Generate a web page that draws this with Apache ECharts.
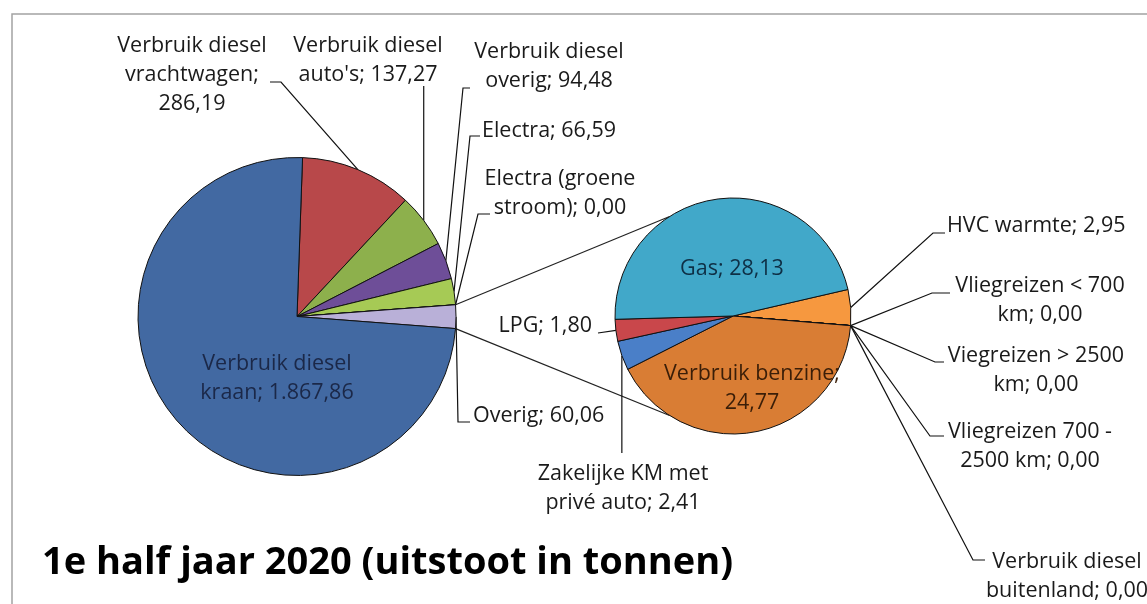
<!DOCTYPE html>
<html><head><meta charset="utf-8">
<script src="https://cdn.jsdelivr.net/npm/echarts@6/dist/echarts.min.js"></script>
<style>html,body{margin:0;padding:0;background:#fff}#c{width:1147px;height:604px}</style>
</head><body><div id="c"></div>
<script>
// ---- data ----
const titleText = '1e half jaar 2020 (uitstoot in tonnen)';
const mainNames = ['Verbruik diesel\nvrachtwagen', "Verbruik diesel\nauto's", 'Verbruik diesel\noverig', 'Electra', 'Electra (groene\nstroom)', 'Overig', 'Verbruik diesel\nkraan'];
const mainValues = [286.19, 137.27, 94.48, 66.59, 0.00, 60.06, 1867.86];
const mainSep = [';\n', '; ', '; ', '; ', '; ', '; ', '; '];
const subNames = ['HVC warmte', 'Vliegreizen < 700\nkm', 'Viegreizen > 2500\nkm', 'Vliegreizen 700 -\n2500 km', 'Verbruik diesel\nbuitenland', 'Verbruik benzine', 'Zakelijke KM met\nprivé auto', 'LPG', 'Gas'];
const subValues = [2.95, 0.00, 0.00, 0.00, 0.00, 24.77, 2.41, 1.80, 28.13];
const subSep = ['; ', '; ', '; ', '; ', '; ', ';\n', '; ', '; ', '; '];

// ---- styles / layout ----
const mainColors = ['#B8484A', '#8DB04C', '#6E4E98', '#A6CA55', '#4BACC6', '#B9B0D8', '#4269A2'];
const subColors = ['#F6983F', '#8064A2', '#4BACC6', '#9BBB59', '#C0504D', '#D97D34', '#4A7FC8', '#C9474B', '#41A8C9'];
const MAIN_C = [297, 316.5], MAIN_R = 159, MAIN_START = 88;
const SUB_C = [733, 316], SUB_R = 118, SUB_START = 13;
const FONT = 'Open Sans', FS = 21.5, LH = 29, BASE_OFF = 21;
const insideMain = [6];
const insideSub = [5, 8];
const insideColor = {main6: '#1B2848', sub5: '#3A1E08', sub8: '#0E2F45'};
// label anchor: [x, first-line baseline, align], extra guide line points after the slice anchor
const mainLabelPos = [
  [192, 52, 'center', [[281, 82], [270, 82]]],
  [368, 52, 'center', 'vert86'],
  [549, 58, 'center', [[463, 88], [470, 88]]],
  [549, 137, 'center', [[470, 136], [480, 136]]],
  [560, 185, 'center', [[478, 214], [490, 214]]],
  [473, 422, 'left', [[458, 422], [470, 422]]],
  [277, 370, 'center', null]
];
const subLabelPos = [
  [947, 232, 'left', [[933, 233], [945, 233]]],
  [1040, 292, 'center', [[932, 293], [950, 293]]],
  [1036, 362, 'center', [[935, 362], [944, 362]]],
  [1030, 438, 'center', [[930, 436], [944, 436]]],
  [1067, 568, 'center', [[973, 560], [985, 560]]],
  [752, 380, 'center', null],
  [623, 480, 'center', 'vert453'],
  [592, 332, 'right', [[598, 333]]],
  [732, 275, 'center', null]
];

function fmt(v) {
  const s = v.toFixed(2).split('.');
  const int = s[0].replace(/\B(?=(\d{3})+(?!\d))/g, '.');
  return int + ',' + s[1];
}
function buildData(names, values, colors, seps, inside, key) {
  return names.map((n, i) => {
    const d = {name: n, value: values[i], itemStyle: {color: colors[i]}, sep: seps[i]};
    if (inside.indexOf(i) >= 0) {
      d.label = {position: 'inside', color: insideColor[key + i]};
      d.labelLine = {show: false};
    }
    return d;
  });
}
function makeLayout(posArr) {
  return function (p) {
    const pos = posArr[p.dataIndex];
    const res = {x: pos[0], y: pos[1] - BASE_OFF, align: pos[2], verticalAlign: 'top'};
    const extra = pos[3];
    if (extra && p.labelLinePoints && p.labelLinePoints.length) {
      const a = p.labelLinePoints[0];
      let pts;
      if (typeof extra === 'string') {
        const yy = +extra.replace('vert', '');
        pts = [a, [a[0], yy]];
      } else {
        pts = [a].concat(extra);
      }
      res.labelLinePoints = pts;
    }
    return res;
  };
}
function deg(a) { return a * Math.PI / 180; }
// connector lines between the "Overig" slice and the secondary pie
const mainTotal = mainValues.reduce((a, b) => a + b, 0);
const overigIdx = 5;
const before = mainValues.slice(0, overigIdx).reduce((a, b) => a + b, 0);
const aTop = MAIN_START - 360 * before / mainTotal;
const aBot = aTop - 360 * mainValues[overigIdx] / mainTotal;
function pt(c, r, a) { return [c[0] + r * Math.cos(deg(a)), c[1] - r * Math.sin(deg(a))]; }
const p1 = pt(MAIN_C, MAIN_R, aTop), p2 = pt(MAIN_C, MAIN_R, aBot);
const q1 = pt(SUB_C, SUB_R, 122.5), q2 = pt(SUB_C, SUB_R, -122.5);

const labelBase = {
  show: true, fontFamily: FONT, fontSize: FS, lineHeight: LH, color: '#1a1a1a',
  formatter: p => p.name + p.data.sep + fmt(p.value)
};
const pieBase = {
  type: 'pie', avoidLabelOverlap: false, animation: false, silent: true,
  itemStyle: {borderColor: '#111', borderWidth: 1},
  labelLine: {show: true, smooth: false, lineStyle: {color: '#111', width: 1.2}},
  emphasis: {disabled: true}
};
const chart = echarts.init(document.getElementById('c'), null, {renderer: 'canvas'});
chart.setOption({
  backgroundColor: '#fff',
  animation: false,
  title: {
    text: titleText, left: 42, top: 544, padding: 0,
    textStyle: {fontFamily: FONT, fontWeight: 'bold', fontSize: 38, color: '#000'}
  },
  graphic: [
    {type: 'rect', z: -10, shape: {x: 12, y: 14, width: 1200, height: 700}, style: {fill: 'none', stroke: '#a3a3a3', lineWidth: 1.5}},
    {type: 'line', z: 1, shape: {x1: p1[0], y1: p1[1], x2: q1[0], y2: q1[1]}, style: {stroke: '#222', lineWidth: 1.2}},
    {type: 'line', z: 1, shape: {x1: p2[0], y1: p2[1], x2: q2[0], y2: q2[1]}, style: {stroke: '#222', lineWidth: 1.2}}
  ],
  series: [
    Object.assign({}, pieBase, {
      name: 'main', center: MAIN_C, radius: MAIN_R, startAngle: MAIN_START,
      label: labelBase,
      labelLayout: makeLayout(mainLabelPos),
      data: buildData(mainNames, mainValues, mainColors, mainSep, insideMain, 'main')
    }),
    Object.assign({}, pieBase, {
      name: 'sub', center: SUB_C, radius: SUB_R, startAngle: SUB_START,
      label: labelBase,
      labelLayout: makeLayout(subLabelPos),
      data: buildData(subNames, subValues, subColors, subSep, insideSub, 'sub')
    })
  ]
});
</script></body></html>
